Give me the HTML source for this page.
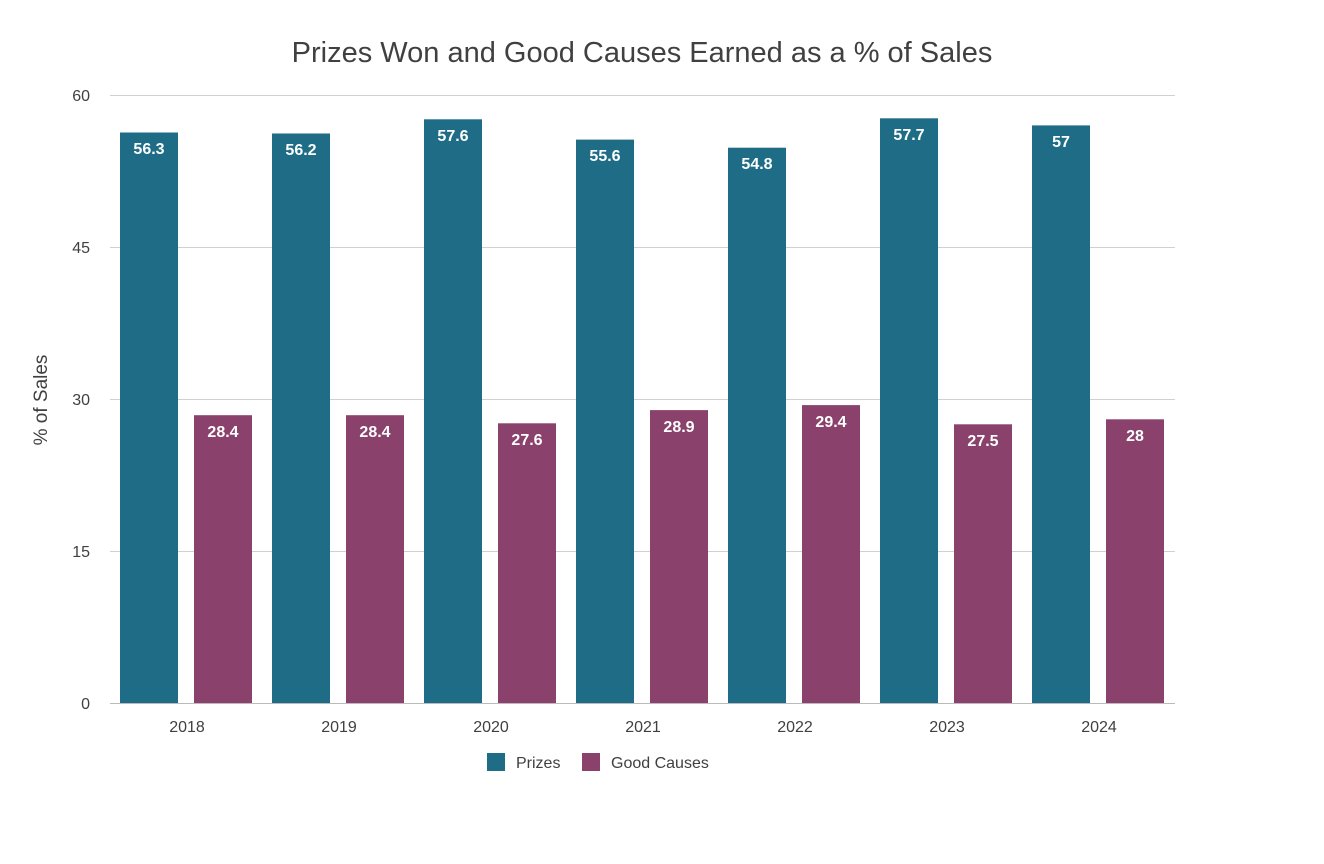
<!DOCTYPE html>
<html><head><meta charset="utf-8"><style>body{margin:0;background:#fff}svg{display:block}text{font-family:"Liberation Sans",sans-serif}</style></head><body>
<svg width="1324" height="864" viewBox="0 0 1324 864" xmlns="http://www.w3.org/2000/svg">
<text x="642" y="62" text-anchor="middle" font-size="29" fill="#404040">Prizes Won and Good Causes Earned as a % of Sales</text>
<g stroke="#d0d0d0" stroke-width="1">
<line x1="110" y1="95.5" x2="1175" y2="95.5"/><line x1="110" y1="247.5" x2="1175" y2="247.5"/><line x1="110" y1="399.5" x2="1175" y2="399.5"/><line x1="110" y1="551.5" x2="1175" y2="551.5"/><line x1="110" y1="703.5" x2="1175" y2="703.5" stroke="#bbb"/>
</g>
<g font-size="16" fill="#404040" text-anchor="end">
<text x="90" y="101">60</text><text x="90" y="253">45</text><text x="90" y="405">30</text><text x="90" y="557">15</text><text x="90" y="709">0</text>
</g>
<text transform="translate(47,400) rotate(-90)" text-anchor="middle" font-size="19" fill="#404040">% of Sales</text>
<g fill="#1e6c86">
<rect x="120" y="132.5" width="58" height="570.5"/>
<rect x="272" y="133.5" width="58" height="569.5"/>
<rect x="424" y="119.3" width="58" height="583.7"/>
<rect x="576" y="139.6" width="58" height="563.4"/>
<rect x="728" y="147.7" width="58" height="555.3"/>
<rect x="880" y="118.3" width="58" height="584.7"/>
<rect x="1032" y="125.4" width="58" height="577.6"/>
</g>
<g fill="#8a416b">
<rect x="194" y="415.2" width="58" height="287.8"/>
<rect x="346" y="415.2" width="58" height="287.8"/>
<rect x="498" y="423.3" width="58" height="279.7"/>
<rect x="650" y="410.1" width="58" height="292.9"/>
<rect x="802" y="405.1" width="58" height="297.9"/>
<rect x="954" y="424.3" width="58" height="278.7"/>
<rect x="1106" y="419.3" width="58" height="283.7"/>
</g>
<g font-size="16" font-weight="bold" fill="#fff" text-anchor="middle">
<text x="149" y="154">56.3</text>
<text x="301" y="155">56.2</text>
<text x="453" y="141">57.6</text>
<text x="605" y="161">55.6</text>
<text x="757" y="169">54.8</text>
<text x="909" y="140">57.7</text>
<text x="1061" y="147">57</text>
<text x="223" y="437">28.4</text>
<text x="375" y="437">28.4</text>
<text x="527" y="445">27.6</text>
<text x="679" y="432">28.9</text>
<text x="831" y="427">29.4</text>
<text x="983" y="446">27.5</text>
<text x="1135" y="441">28</text>
</g>
<g font-size="16" fill="#404040" text-anchor="middle">
<text x="187" y="732">2018</text><text x="339" y="732">2019</text><text x="491" y="732">2020</text><text x="643" y="732">2021</text><text x="795" y="732">2022</text><text x="947" y="732">2023</text><text x="1099" y="732">2024</text>
</g>
<rect x="487" y="753" width="18" height="18" fill="#1e6c86"/>
<text x="516" y="768" font-size="16" fill="#404040">Prizes</text>
<rect x="582" y="753" width="18" height="18" fill="#8a416b"/>
<text x="611" y="768" font-size="16" fill="#404040">Good Causes</text>
</svg>
</body></html>
